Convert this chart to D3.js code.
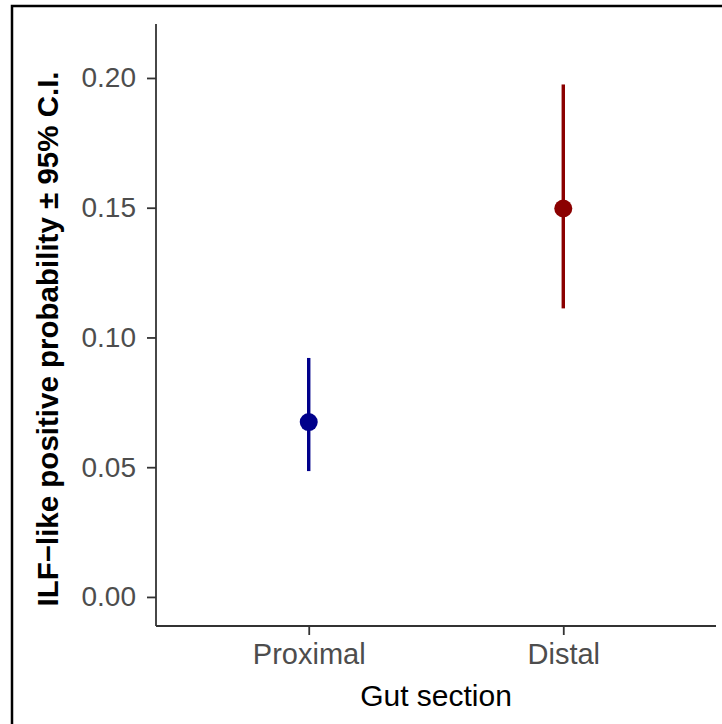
<!DOCTYPE html>
<html>
<head>
<meta charset="utf-8">
<script src="https://cdn.jsdelivr.net/npm/d3@7"></script>
<style>
  body { margin: 0; background: #fff; }
  svg { display: block; }
</style>
</head>
<body>
<div id="chart"></div>
<script>
const width = 722;
const height = 724;

const sections = ["Proximal", "Distal"];
const estimates = [0.0674, 0.1497];
const lower = [0.0485, 0.1112];
const upper = [0.0921, 0.1975];
const colors = ["#00008B", "#8B0000"];
const yTicks = [0.00, 0.05, 0.10, 0.15, 0.20];

const plot = { left: 156, right: 716, top: 24, bottom: 626 };
const font = "'Liberation Sans', Arial, sans-serif";

const svg = d3.select("#chart").append("svg")
  .attr("width", width)
  .attr("height", height);

// outer frame (only top and left edges show in the reference)
svg.append("rect")
  .attr("x", 12).attr("y", 6)
  .attr("width", width + 20).attr("height", height + 20)
  .attr("fill", "none")
  .attr("stroke", "#000")
  .attr("stroke-width", 2.5);

const x = d3.scalePoint()
  .domain(sections)
  .range([plot.left, plot.right])
  .padding(0.6); // ggplot discrete expansion 0.6

const y = d3.scaleLinear()
  .domain([-0.0112, 0.2208])
  .range([plot.bottom, plot.top]);

const data = sections.map((s, i) => ({ s, est: estimates[i], lo: lower[i], hi: upper[i], col: colors[i] }));

// y axis
const yAxis = svg.append("g")
  .attr("transform", `translate(${plot.left},0)`)
  .call(d3.axisLeft(y).tickValues(yTicks).tickFormat(d3.format(".2f")).tickSize(9).tickPadding(11));
yAxis.select(".domain").attr("stroke", "#333").attr("stroke-width", 1.8).attr("d", `M0,${plot.top}V${plot.bottom}`);
yAxis.selectAll(".tick line").attr("stroke", "#333").attr("stroke-width", 1.8);
yAxis.selectAll(".tick text")
  .attr("fill", "#4D4D4D")
  .style("font-family", font)
  .style("font-size", "28px");

// x axis
const xAxis = svg.append("g")
  .attr("transform", `translate(0,${plot.bottom})`)
  .call(d3.axisBottom(x).tickSize(9).tickPadding(8));
xAxis.select(".domain").attr("stroke", "#333").attr("stroke-width", 1.8).attr("d", `M${plot.left},0H${plot.right}`);
xAxis.selectAll(".tick line").attr("stroke", "#333").attr("stroke-width", 1.8);
xAxis.selectAll(".tick text")
  .attr("fill", "#4D4D4D")
  .style("font-family", font)
  .style("font-size", "29px");

// error bars
svg.selectAll(".ci")
  .data(data)
  .join("line")
    .attr("class", "ci")
    .attr("x1", d => x(d.s))
    .attr("x2", d => x(d.s))
    .attr("y1", d => y(d.lo))
    .attr("y2", d => y(d.hi))
    .attr("stroke", d => d.col)
    .attr("stroke-width", 3.4);

// points
svg.selectAll(".pt")
  .data(data)
  .join("circle")
    .attr("class", "pt")
    .attr("cx", d => x(d.s))
    .attr("cy", d => y(d.est))
    .attr("r", 9)
    .attr("fill", d => d.col);

// axis titles
svg.append("text")
  .attr("x", (plot.left + plot.right) / 2)
  .attr("y", 706)
  .attr("text-anchor", "middle")
  .style("font-family", font)
  .style("font-size", "30px")
  .attr("fill", "#000")
  .text("Gut section");

svg.append("text")
  .attr("transform", `translate(58,${(plot.top + plot.bottom) / 2 + 14}) rotate(-90)`)
  .attr("text-anchor", "middle")
  .style("font-family", font)
  .style("font-size", "29.5px")
  .style("font-weight", "bold")
  .attr("fill", "#000")
  .text("ILF\u2212like positive probability \u00b1 95% C.I.");
</script>
</body>
</html>
